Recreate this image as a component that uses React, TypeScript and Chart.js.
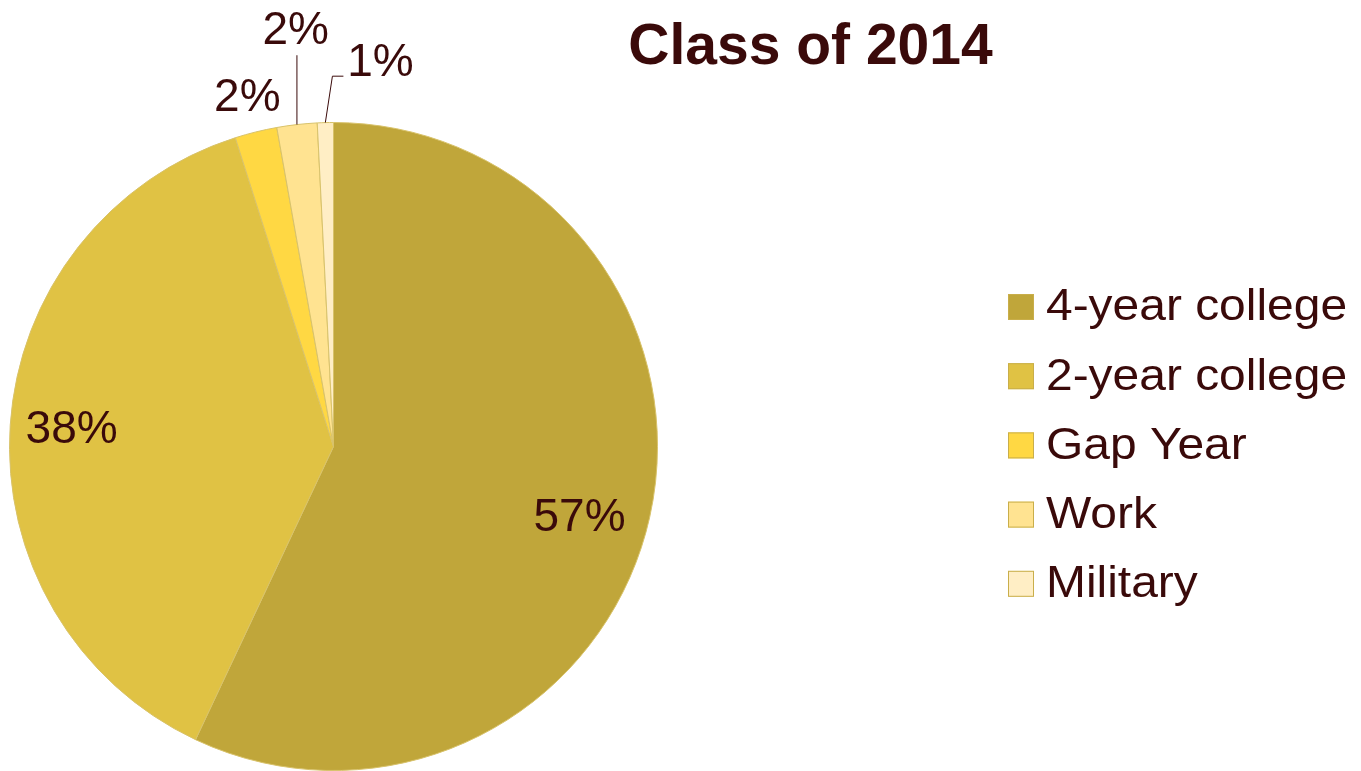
import React, { useEffect, useRef } from "react";
import { Chart, registerables } from "chart.js";

Chart.register(...registerables);

const TITLE = "Class of 2014";
const CATEGORIES = ["4-year college", "2-year college", "Gap Year", "Work", "Military"];
const VALUES = [57.0, 38.1, 2.1, 2.0, 0.8];
const PERCENT_LABELS = ["57%", "38%", "2%", "2%", "1%"];
const COLORS = ["#C0A63A", "#E0C244", "#FFD843", "#FFE391", "#FFEEC5"];

const TEXT_COLOR = "#3A0A0A";
const FONT = "'Liberation Sans', Arial, sans-serif";

// label placement: radius factor, angle shift (deg, clockwise), leader style
const LABEL_PLACEMENT = [
  { r: 0.79, da: 3.4, leader: "none" },
  { r: 0.81, da: 0, leader: "none" },
  { r: 1.11, da: 0, leader: "none" },
  { r: 1.29, da: 1.3, leader: "vertical" },
  { r: 1.195, da: 8.4, leader: "elbow" },
];

const labelsPlugin = {
  id: "pieLabels",
  afterDatasetsDraw(chart: any) {
    const ctx = chart.ctx;
    const meta = chart.getDatasetMeta(0);
    ctx.save();
    ctx.fillStyle = TEXT_COLOR;
    ctx.strokeStyle = TEXT_COLOR;
    ctx.lineWidth = 1;
    ctx.font = `46px ${FONT}`;
    ctx.textAlign = "center";
    ctx.textBaseline = "middle";
    meta.data.forEach((arc: any, i: number) => {
      const { x, y, startAngle, endAngle, outerRadius } = arc.getProps(
        ["x", "y", "startAngle", "endAngle", "outerRadius"],
        true
      );
      const mid = (startAngle + endAngle) / 2;
      const p = LABEL_PLACEMENT[i];
      const a = mid + (p.da * Math.PI) / 180;
      const lx = x + outerRadius * p.r * Math.cos(a);
      const ly = y + outerRadius * p.r * Math.sin(a);
      const ax = x + outerRadius * Math.cos(mid);
      const ay = y + outerRadius * Math.sin(mid);
      if (p.leader === "vertical") {
        ctx.beginPath();
        ctx.moveTo(ax, ay);
        ctx.lineTo(ax, ly + 25);
        ctx.stroke();
      } else if (p.leader === "elbow") {
        ctx.beginPath();
        ctx.moveTo(ax, ay);
        ctx.lineTo(lx - 48, ly + 14);
        ctx.lineTo(lx - 37, ly + 14);
        ctx.stroke();
      }
      ctx.fillText(PERCENT_LABELS[i], lx, ly + 1);
    });
    ctx.restore();
  },
  afterDraw(chart: any) {
    const ctx = chart.ctx;
    ctx.save();
    // title
    ctx.fillStyle = TEXT_COLOR;
    ctx.font = `bold 57px ${FONT}`;
    ctx.textAlign = "center";
    ctx.textBaseline = "middle";
    ctx.fillText(TITLE, 810.5, 48);
    // legend
    CATEGORIES.forEach((c, i) => {
      const cy = 307 + i * 69.2;
      ctx.fillStyle = COLORS[i];
      ctx.fillRect(1008, cy - 13, 26, 26);
      ctx.strokeStyle = "#C9AE4A";
      ctx.lineWidth = 1;
      ctx.strokeRect(1008.5, cy - 12.5, 25, 25);
      ctx.save();
      ctx.translate(1046, cy + 1);
      ctx.scale(1.065, 1);
      ctx.font = `45px ${FONT}`;
      ctx.textAlign = "left";
      ctx.fillStyle = TEXT_COLOR;
      ctx.fillText(c, 0, 0);
      ctx.restore();
    });
    ctx.restore();
  },
};

export default function App() {
  const ref = useRef<HTMLCanvasElement | null>(null);
  useEffect(() => {
    if (!ref.current) return;
    const chart = new Chart(ref.current, {
      type: "pie",
      data: {
        labels: CATEGORIES,
        datasets: [
          {
            data: VALUES,
            backgroundColor: COLORS,
            borderColor: "#D8C26A",
            borderWidth: 1,
          },
        ],
      },
      options: {
        responsive: false,
        animation: false,
        layout: { padding: { left: 9, top: 122, right: 703, bottom: 0 } },
        plugins: {
          legend: { display: false },
          tooltip: { enabled: false },
          title: { display: false },
        },
      },
      plugins: [labelsPlugin],
    });
    return () => chart.destroy();
  }, []);
  return (
    <div style={{ position: "fixed", left: 0, top: 0, width: 1361, height: 771, background: "#fff" }}>
      <canvas ref={ref} width={1361} height={771} style={{ width: 1361, height: 771 }} />
    </div>
  );
}
